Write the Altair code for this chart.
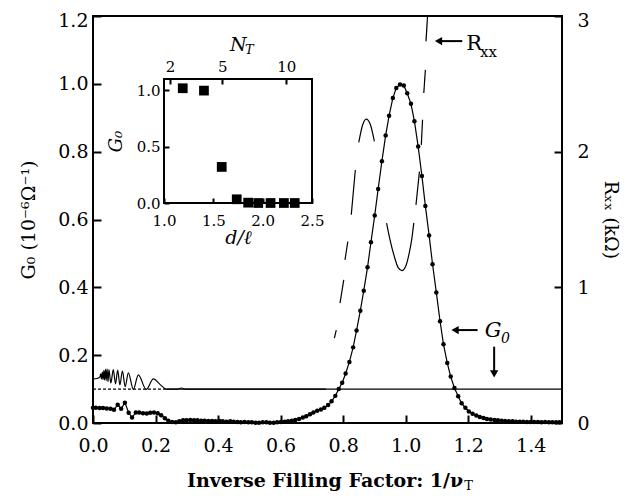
import altair as alt
import pandas as pd

FONT = "DejaVu Serif"
W, H = 469, 407

# ---------------- main data: G0 (left axis, 10^-6 Ohm^-1) ----------------
g0_x = [0.000, 0.009, 0.021, 0.032, 0.044, 0.056, 0.067, 0.079, 0.090, 0.102,
        0.114, 0.125, 0.137, 0.148, 0.160, 0.172, 0.183, 0.195, 0.207, 0.218,
        0.230, 0.241, 0.253, 0.265, 0.276, 0.288, 0.299, 0.311, 0.323, 0.334,
        0.346, 0.357, 0.369, 0.381, 0.392, 0.404, 0.415, 0.427, 0.439, 0.450,
        0.462, 0.473, 0.485, 0.497, 0.508, 0.520, 0.531, 0.543, 0.555, 0.566,
        0.578, 0.589, 0.601, 0.613, 0.624, 0.636, 0.647, 0.659, 0.671, 0.682,
        0.694, 0.705, 0.717, 0.729, 0.740, 0.752, 0.763, 0.775,
        0.786, 0.797, 0.808, 0.820, 0.832, 0.843, 0.855, 0.866, 0.878, 0.889,
        0.901, 0.912, 0.924, 0.936, 0.947, 0.959, 0.970, 0.982, 0.994, 1.005,
        1.017, 1.028, 1.040, 1.052, 1.063, 1.075, 1.086, 1.098, 1.110, 1.121,
        1.133, 1.144, 1.156, 1.168, 1.179,
        1.191, 1.202, 1.214, 1.226, 1.237, 1.249, 1.260, 1.272, 1.284, 1.295,
        1.307, 1.318, 1.330, 1.342, 1.353, 1.365, 1.376, 1.388, 1.400, 1.411,
        1.423, 1.434, 1.446, 1.458, 1.469, 1.481, 1.492]
g0_y = [0.045, 0.045, 0.044, 0.044, 0.043, 0.042, 0.039, 0.054, 0.042, 0.060,
        0.030, 0.016, 0.031, 0.031, 0.029, 0.028, 0.030, 0.031, 0.029, 0.023,
        0.014, 0.007, 0.003, 0.002, 0.005, 0.008, 0.008, 0.009, 0.008, 0.008,
        0.007, 0.007, 0.006, 0.006, 0.005, 0.006, 0.005, 0.004, 0.005, 0.004,
        0.003, 0.002, 0.003, 0.002, 0.002, 0.001, 0.001, 0.002, 0.002, 0.001,
        0.001, 0.002, 0.003, 0.004, 0.005, 0.007, 0.009, 0.012, 0.016, 0.020,
        0.026, 0.031, 0.036, 0.040, 0.045, 0.053, 0.064, 0.080,
        0.100, 0.119, 0.146, 0.180, 0.223, 0.273, 0.331, 0.390, 0.459, 0.533,
        0.612, 0.690, 0.772, 0.848, 0.906, 0.958, 0.988, 0.998, 0.995, 0.972,
        0.941, 0.890, 0.815, 0.728, 0.640, 0.553, 0.468, 0.385, 0.300, 0.232,
        0.177, 0.137, 0.103, 0.079, 0.058,
        0.045, 0.034, 0.027, 0.022, 0.018, 0.015, 0.012, 0.010, 0.009, 0.008,
        0.007, 0.006, 0.005, 0.005, 0.004, 0.004, 0.004, 0.003, 0.003, 0.003,
        0.003, 0.002, 0.003, 0.002, 0.002, 0.002, 0.002]

# ---------------- Rxx (right axis, kOhm); seg = visible stroke piece ----------------
rxx_x = [0.000, 0.015, 0.022, 0.025, 0.027, 0.030, 0.032, 0.035, 0.037, 0.040,
         0.042, 0.045, 0.048, 0.051, 0.057, 0.065, 0.072, 0.079, 0.086, 0.094,
         0.103, 0.113, 0.129, 0.145, 0.170, 0.193, 0.215, 0.235, 0.270, 0.283,
         0.296, 0.745,
         0.772, 0.778,
         0.790, 0.802,
         0.806, 0.815,
         0.826, 0.839,
         0.850, 0.862, 0.874, 0.887, 0.900,
         0.939, 0.950, 0.964, 0.976, 0.988, 1.000, 1.010, 1.020, 1.026,
         1.033, 1.044,
         1.050, 1.054,
         1.058, 1.063,
         1.065, 1.070]
rxx_kohm = [0.325, 0.330, 0.338, 0.363, 0.325, 0.375, 0.320, 0.388, 0.318, 0.395,
            0.313, 0.400, 0.305, 0.393, 0.295, 0.393, 0.288, 0.390, 0.280, 0.383,
            0.268, 0.370, 0.248, 0.355, 0.248, 0.325, 0.283, 0.250, 0.250, 0.258,
            0.250, 0.250,
            0.625, 0.685,
            0.883, 1.055,
            1.203, 1.338,
            1.535, 1.865,
            2.068, 2.195, 2.240, 2.200, 2.075,
            1.473, 1.350, 1.225, 1.145, 1.123, 1.155, 1.238, 1.363, 1.475,
            1.608, 1.853,
            2.050, 2.235,
            2.433, 2.603,
            2.813, 3.000]
rxx_seg = [0] * 32 + [1] * 2 + [2] * 2 + [3] * 2 + [4] * 2 + [5] * 5 + [6] * 9 + \
          [7] * 2 + [8] * 2 + [9] * 2 + [10] * 2

# Rxx reference level (dashed then solid)
base_x0 = [0.0, 0.235]
base_x1 = [0.235, 1.5]
base_kohm = [0.25, 0.25]
base_style = ["dashed", "solid"]

# ---------------- inset ----------------
inset_dl = [1.19, 1.405, 1.585, 1.737, 1.853, 1.955, 2.08, 2.215, 2.325]
inset_g0 = [1.018, 0.997, 0.32, 0.033, 0.003, 0.0, 0.0, 0.0, 0.0]
nt_label = ["2", "5", "10"]
nt_dl = [1.06, 1.59, 2.24]

# ---------------- ticks / domains ----------------
x_ticks = [0.0, 0.2, 0.4, 0.6, 0.8, 1.0, 1.2, 1.4]
g0_ticks = [0.0, 0.2, 0.4, 0.6, 0.8, 1.0, 1.2]
rxx_ticks = [0, 1, 2, 3]
ix_ticks = [1.0, 1.5, 2.0, 2.5]
iy_ticks = [0.0, 0.5, 1.0]
X_DOM, G0_DOM, RXX_DOM = [0, 1.5], [0, 1.2], [0, 3]
IX_DOM, IY_DOM = [1.0, 2.5], [0, 1.1]
IX_RANGE, IY_RANGE = [71, 219], [187, 63]

# ---------------- annotations (data coords of the main G0 scale) ----------------
arr_x0 = [1.105, 1.158, 1.283]
arr_x1 = [1.181, 1.230, 1.283]
arr_y0 = [1.126, 0.274, 0.225]
arr_y1 = [1.126, 0.274, 0.145]
head_x = [1.105, 1.158, 1.283]
head_y = [1.126, 0.274, 0.145]
head_shape = ["triangle-left", "triangle-left", "triangle-down"]

up_text = ["R", "xx", "T"]
up_x = [1.194, 1.238, 1.187]
up_y = [1.100, 1.079, -0.199]
up_fs = [21, 15, 13]

it_text = ["G", "0"]
it_x = [1.253, 1.305]
it_y = [0.253, 0.235]
it_fs = [21, 14]

title_text = ["Inverse Filling Factor: 1/ν"]
title_x = [1.184]
title_y = [-0.190]

inset_t_text = ["N", "T"]
inset_t_x = [1.669, 1.821]
inset_t_y = [1.345, 1.322]
inset_t_fs = [19, 13]


def ax(**kw):
    d = dict(grid=False, domain=False, tickColor="black", tickWidth=2,
             labelColor="black", labelFont=FONT, titleFont=FONT,
             titleColor="black", labelFlush=False, labelOverlap=False)
    d.update(kw)
    return alt.Axis(**d)


xs = alt.Scale(domain=X_DOM, nice=False, zero=False)
gs = alt.Scale(domain=G0_DOM, nice=False, zero=False)
rs = alt.Scale(domain=RXX_DOM, nice=False, zero=False)
ixs = alt.Scale(domain=IX_DOM, range=IX_RANGE, nice=False, zero=False)
iys = alt.Scale(domain=IY_DOM, range=IY_RANGE, nice=False, zero=False)

top_left_shift = alt.condition("datum.value >= %s" % G0_DOM[1], alt.value(4), alt.value(0))
top_right_shift = alt.condition("datum.value >= %s" % RXX_DOM[1], alt.value(4), alt.value(0))

g0_df = pd.DataFrame({"x": g0_x, "g": g0_y})
g0_line = alt.Chart(g0_df).mark_line(color="black", strokeWidth=1.2).encode(
    x=alt.X("x:Q", scale=xs,
            axis=ax(values=x_ticks, format=".1f", offset=-8, tickSize=8,
                    labelFontSize=19, labelPadding=13, title=None)),
    y=alt.Y("g:Q", scale=gs,
            axis=ax(values=g0_ticks, format=".1f", offset=-8, tickSize=8,
                    labelFontSize=19, labelPadding=5, labelOffset=top_left_shift,
                    title="G₀ (10⁻⁶Ω⁻¹)",
                    titleFontSize=19, titleFontWeight="normal", titlePadding=19)),
)
g0_pts = alt.Chart(g0_df).mark_circle(color="black", size=20, opacity=1).encode(
    x=alt.X("x:Q", scale=xs, axis=None),
    y=alt.Y("g:Q", scale=gs, axis=None),
)

rxx_df = pd.DataFrame({"x": rxx_x, "r": rxx_kohm, "seg": rxx_seg})
rxx_line = alt.Chart(rxx_df).mark_line(color="black", strokeWidth=1.2,
                                       interpolate="monotone").encode(
    x=alt.X("x:Q", scale=xs, axis=None),
    y=alt.Y("r:Q", scale=rs,
            axis=ax(orient="right", values=rxx_ticks, format="d", offset=-8,
                    tickSize=8, labelFontSize=19, labelPadding=15,
                    labelOffset=top_right_shift,
                    title="Rₓₓ (kΩ)", titleFontSize=19, titleFontWeight="normal",
                    titlePadding=11, titleAngle=90)),
    detail="seg:N",
)

base_df = pd.DataFrame({"x0": base_x0, "x1": base_x1, "r": base_kohm, "style": base_style})
base_rule = alt.Chart(base_df).mark_rule(color="black", strokeWidth=1.1).encode(
    x=alt.X("x0:Q", scale=xs, axis=None), x2="x1:Q",
    y=alt.Y("r:Q", scale=rs, axis=None),
    strokeDash=alt.StrokeDash("style:N", legend=None,
                              scale=alt.Scale(domain=["dashed", "solid"],
                                              range=[[3, 2], [1, 0]])),
)

arr_df = pd.DataFrame({"x0": arr_x0, "x1": arr_x1, "y0": arr_y0, "y1": arr_y1})
arr_rule = alt.Chart(arr_df).mark_rule(color="black", strokeWidth=2).encode(
    x=alt.X("x0:Q", scale=xs, axis=None), x2="x1:Q",
    y=alt.Y("y0:Q", scale=gs, axis=None), y2="y1:Q",
)
head_df = pd.DataFrame({"x": head_x, "y": head_y, "shape": head_shape})
heads = alt.Chart(head_df).mark_point(filled=True, color="black", size=70, opacity=1).encode(
    x=alt.X("x:Q", scale=xs, axis=None),
    y=alt.Y("y:Q", scale=gs, axis=None),
    shape=alt.Shape("shape:N", scale=None),
)

up_df = pd.DataFrame({"t": up_text, "x": up_x, "y": up_y, "fs": up_fs})
up_txt = alt.Chart(up_df).mark_text(align="left", baseline="alphabetic", font=FONT,
                                    color="black").encode(
    x=alt.X("x:Q", scale=xs, axis=None), y=alt.Y("y:Q", scale=gs, axis=None),
    text="t:N", size=alt.Size("fs:Q", scale=None),
)
it_df = pd.DataFrame({"t": it_text, "x": it_x, "y": it_y, "fs": it_fs})
it_txt = alt.Chart(it_df).mark_text(align="left", baseline="alphabetic", font=FONT,
                                    fontStyle="italic", color="black").encode(
    x=alt.X("x:Q", scale=xs, axis=None), y=alt.Y("y:Q", scale=gs, axis=None),
    text="t:N", size=alt.Size("fs:Q", scale=None),
)
title_df = pd.DataFrame({"t": title_text, "x": title_x, "y": title_y})
title_txt = alt.Chart(title_df).mark_text(align="right", baseline="alphabetic", font=FONT,
                                          fontWeight="bold", fontSize=19,
                                          color="black").encode(
    x=alt.X("x:Q", scale=xs, axis=None), y=alt.Y("y:Q", scale=gs, axis=None),
    text="t:N",
)

nt_expr = "{}[indexof({}, datum.value)]".format(
    "[" + ",".join("'%s'" % s for s in nt_label) + "]",
    "[" + ",".join(str(v) for v in nt_dl) + "]")

inset_df = pd.DataFrame({"d": inset_dl, "g": inset_g0})
squares = alt.Chart(inset_df).mark_square(color="black", size=95, opacity=1).encode(
    x=alt.X("d:Q", scale=ixs,
            axis=ax(orient="bottom", values=ix_ticks, format=".1f",
                    offset=IY_RANGE[0] - 5 - H, tickSize=5, labelFontSize=15,
                    labelPadding=10, title="d/ℓ", titleFontSize=19,
                    titleFontStyle="italic", titleFontWeight="normal", titlePadding=0)),
    y=alt.Y("g:Q", scale=iys,
            axis=ax(orient="left", values=iy_ticks, format=".1f",
                    offset=-(IX_RANGE[0] + 5), tickSize=5, labelFontSize=15,
                    labelPadding=4, title="G₀", titleFontSize=18,
                    titleFontStyle="italic", titleFontWeight="normal", titlePadding=11)),
)
frame_df = pd.DataFrame({"x0": [IX_DOM[0]], "x1": [IX_DOM[1]],
                         "y0": [IY_DOM[0]], "y1": [IY_DOM[1]]})
frame = alt.Chart(frame_df).mark_rect(fillOpacity=0, stroke="black", strokeWidth=2).encode(
    x=alt.X("x0:Q", scale=ixs,
            axis=ax(orient="top", values=nt_dl, labelExpr=nt_expr,
                    offset=-(IY_RANGE[1] + 5), tickSize=5, labelFontSize=15,
                    labelPadding=5, title=None)),
    x2="x1:Q",
    y=alt.Y("y0:Q", scale=iys, axis=None), y2="y1:Q",
)
inset_t_df = pd.DataFrame({"t": inset_t_text, "x": inset_t_x, "y": inset_t_y, "fs": inset_t_fs})
inset_t = alt.Chart(inset_t_df).mark_text(align="left", baseline="alphabetic", font=FONT,
                                          fontStyle="italic", color="black").encode(
    x=alt.X("x:Q", scale=ixs, axis=None), y=alt.Y("y:Q", scale=iys, axis=None),
    text="t:N", size=alt.Size("fs:Q", scale=None),
)

chart = alt.layer(
    base_rule, rxx_line, g0_line, g0_pts, arr_rule, heads, up_txt, it_txt, title_txt,
    frame, squares, inset_t,
).resolve_scale(x="independent", y="independent").properties(
    width=W, height=H,
    autosize=alt.AutoSizeParams(type="none"),
    padding={"left": 85, "top": 8, "right": 62, "bottom": 68},
).configure_view(stroke="black", strokeWidth=2)

chart.save("out.html", embed_options={"renderer": "svg", "actions": False})
